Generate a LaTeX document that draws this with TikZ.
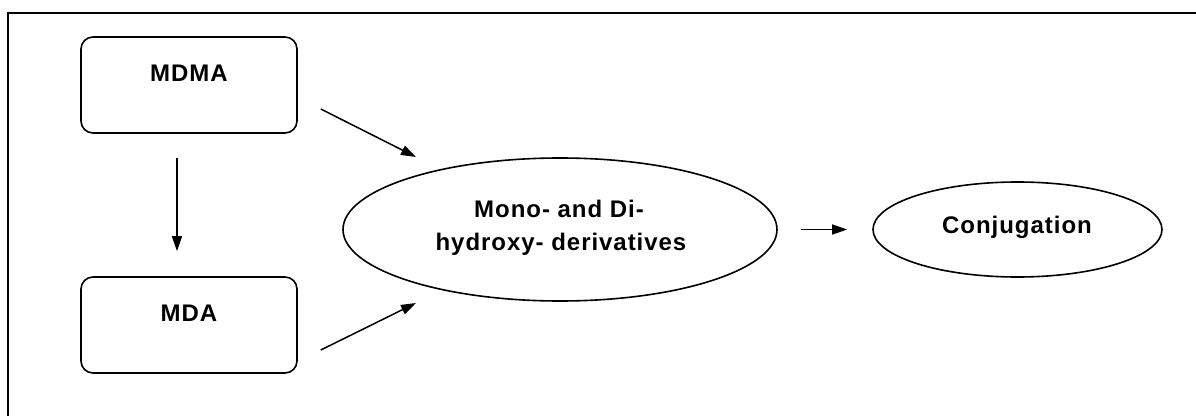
\documentclass[tikz,border=0pt]{standalone}
\usepackage{fontspec}
\setmainfont{Liberation Sans}[BoldFont={Liberation Sans Bold},LetterSpace=4]
\usetikzlibrary{shapes.geometric,arrows.meta,calc}
\begin{document}
\begin{tikzpicture}[x=1pt,y=-1pt,
  txt/.style={font=\bfseries\fontsize{24}{33}\selectfont, inner sep=0pt, anchor=base},
  stepbox/.style={draw, line width=1.6pt, rounded corners=12pt, minimum width=216pt, minimum height=96pt, inner sep=0pt},
  oval/.style={draw, ellipse, line width=1.6pt, inner sep=0pt},
  arr/.style={line width=1.5pt, -{Triangle[length=15pt,width=10pt]}}]
\useasboundingbox (0,0) rectangle (1196,415);
\begin{scope}
\clip (0,0) rectangle (1196,415);
\draw[line width=2pt] (8,13) rectangle (1220,440);
\end{scope}
\node[stepbox] (mdma) at (189,85) {};
\node[stepbox] (mda) at (189,325) {};
\node[txt] (mdmat) at (189,81) {MDMA};
\node[txt] (mdat) at (189,321) {MDA};
\node[oval, minimum width=434pt, minimum height=143pt] (big) at (560,229.5) {};
\node[txt] (bigt1) at (559,217) {Mono- and Di-};
\node[txt] (bigt2) at (561,250) {hydroxy- derivatives};
\node[oval, minimum width=289pt, minimum height=95pt] (conj) at (1017.5,229.5) {};
\node[txt] (conjt) at (1017,233) {Conjugation};
\draw[arr] ([xshift=-12pt,yshift=-24pt]mdma.south) -- ([xshift=-12pt,yshift=25pt]mda.north);
\draw[arr] ([xshift=23pt,yshift=-24pt]mdma.east) -- ($(big.center)+(-144,-72.5)$);
\draw[arr] ([xshift=23pt,yshift=-25pt]mda.east) -- ($(big.center)+(-144,73.5)$);
\draw[arr] ([xshift=23pt]big.east) -- ([xshift=-25pt]conj.west);
\end{tikzpicture}
\end{document}
